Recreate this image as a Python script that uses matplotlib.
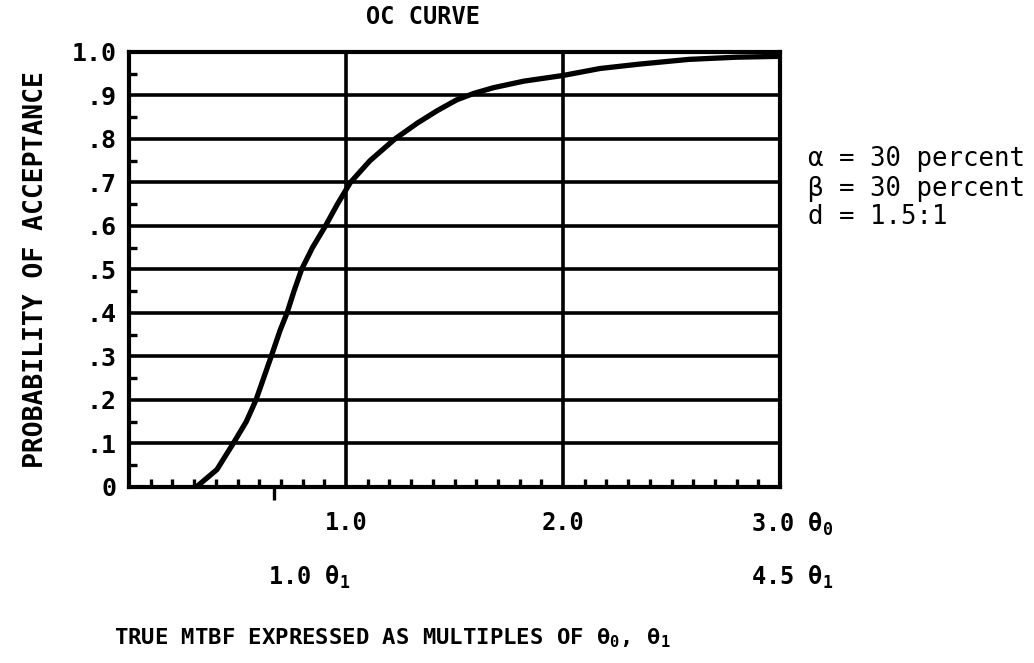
import matplotlib
matplotlib.use("Agg")
import matplotlib.pyplot as plt
import matplotlib.transforms as mtransforms
import numpy as np

# OC curve (x in multiples of theta0)
mtbf_theta0 = [0.31, 0.405, 0.48, 0.54, 0.585, 0.62, 0.655, 0.696, 0.728, 0.76,
               0.795, 0.845, 0.905, 0.96, 1.02, 1.11, 1.225, 1.33, 1.42, 1.51,
               1.59, 1.68, 1.82, 2.00, 2.17, 2.35, 2.58, 2.80, 3.00]
p_accept = [0.0, 0.04, 0.10, 0.15, 0.20, 0.25, 0.30, 0.36, 0.40, 0.45,
            0.50, 0.55, 0.60, 0.65, 0.70, 0.75, 0.80, 0.837, 0.865, 0.89,
            0.905, 0.918, 0.933, 0.946, 0.962, 0.972, 0.983, 0.988, 0.99]

y_ticks = [0.0, 0.1, 0.2, 0.3, 0.4, 0.5, 0.6, 0.7, 0.8, 0.9, 1.0]
y_labels = ["0", ".1", ".2", ".3", ".4", ".5", ".6", ".7", ".8", ".9", "1.0"]
x_ticks = [1.0, 2.0, 3.0]
x_labels = ["1.0", "2.0", "3.0 θ$_0$"]
theta1_ratio = 1.5          # d = theta0 / theta1
theta1_ticks = [1.0, 4.5]
theta1_labels = ["1.0 θ$_1$", "4.5 θ$_1$"]
notes = ["α = 30 percent", "β = 30 percent", "d = 1.5:1"]
note_y = [0.755, 0.685, 0.62]

FONT = "DejaVu Sans Mono"
plt.rcParams["font.family"] = [FONT, "DejaVu Sans"]
plt.rcParams["mathtext.default"] = "regular"

fig = plt.figure(figsize=(10.34, 6.63), dpi=100)
ax = fig.add_axes([0.1248, 0.2655, 0.6296, 0.6561])

ax.plot(mtbf_theta0, p_accept, color="black", lw=3.8,
        solid_capstyle="round", solid_joinstyle="round", zorder=3)

ax.set_xlim(0, 3)
ax.set_ylim(0, 1)

# grid
ax.set_yticks(y_ticks)
ax.set_yticklabels(y_labels, fontsize=18, fontweight="bold")
ax.set_xticks(x_ticks)
ax.set_xticklabels(x_labels, fontsize=17, fontweight="bold")
ax.grid(True, which="major", color="black", lw=2.6)
ax.tick_params(axis="both", which="major", length=0)
ax.tick_params(axis="y", which="major", pad=9)
ax.tick_params(axis="x", which="major", pad=17)
last = ax.get_xticklabels()[-1]
last.set_ha("left")
last.set_transform(last.get_transform() +
                   mtransforms.ScaledTranslation(-0.29, 0, fig.dpi_scale_trans))

ax.set_yticks(np.arange(0.05, 1.0, 0.1), minor=True)
ax.set_xticks(np.arange(0.1, 3.0, 0.1), minor=True)
ax.tick_params(axis="both", which="minor", direction="in", length=6,
               width=2.4, color="black")

for s in ax.spines.values():
    s.set_linewidth(3.0)
    s.set_color("black")

# theta1 scale
sec = ax.secondary_xaxis("bottom", functions=(lambda x: x * theta1_ratio,
                                              lambda x: x / theta1_ratio))
sec.set_xticks(theta1_ticks)
sec.set_xticklabels([])
sec.tick_params(axis="x", direction="out", length=9, width=2.4)
sec.spines["bottom"].set_visible(False)
sec.xaxis.get_major_ticks()[1].tick1line.set_visible(False)
for t, lab in zip(theta1_ticks, theta1_labels):
    off = mtransforms.offset_copy(ax.transData, fig=fig,
                                  x=-6 if t < 2 else -29, y=0, units="dots")
    ax.text(t / theta1_ratio, -0.208, lab, transform=off, ha="left", va="center",
            fontsize=17, fontweight="bold", clip_on=False)

note_tf = mtransforms.blended_transform_factory(ax.transAxes, ax.transData)
for txt, yy in zip(notes, note_y):
    ax.text(1.043, yy, txt, transform=note_tf, ha="left", va="center",
            fontsize=18.5, clip_on=False)

fig.text(423 / 1034, 1 - 17 / 663, "OC CURVE", ha="center", va="center",
         fontsize=17, fontweight="bold")
fig.text(36 / 1034, 1 - 270 / 663, "PROBABILITY OF ACCEPTANCE", rotation=90,
         ha="center", va="center", fontsize=19, fontweight="bold")
fig.text(392 / 1034, 1 - 638 / 663,
         "TRUE MTBF EXPRESSED AS MULTIPLES OF θ$_0$, θ$_1$",
         ha="center", va="center", fontsize=16, fontweight="bold")

fig.savefig("out.png", dpi=100, facecolor="white")
